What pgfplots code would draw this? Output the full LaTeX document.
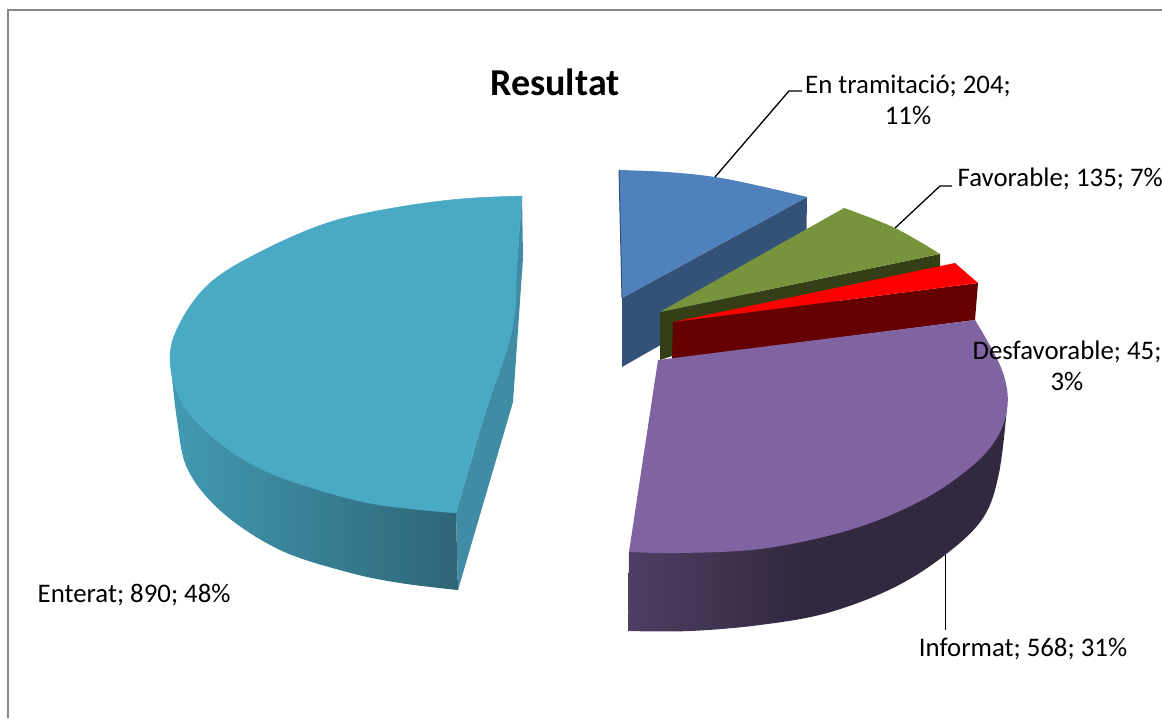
\documentclass[border=0pt]{standalone}
\usepackage{pgfplots}
\pgfplotsset{compat=1.18}
\usepackage{fontspec}
\setmainfont{Carlito}
\definecolor{tealA}{HTML}{429AB3}
\definecolor{tealB}{HTML}{2E6576}
\definecolor{tealC}{HTML}{3F8CA4}
\definecolor{tealT}{HTML}{4AA9C3}
\definecolor{purpA}{HTML}{4F3E63}
\definecolor{purpB}{HTML}{32283F}
\definecolor{purpT}{HTML}{8064A2}
\definecolor{blueT}{HTML}{4F81BD}
\definecolor{blueS}{HTML}{345278}
\definecolor{greenT}{HTML}{77933C}
\definecolor{greenS}{HTML}{353F17}
\definecolor{redS}{HTML}{660000}
\pgfdeclarehorizontalshading{tealside}{100bp}{color(0bp)=(tealA); color(25bp)=(tealA); color(75bp)=(tealB); color(100bp)=(tealB)}
\pgfdeclarehorizontalshading{purpside}{100bp}{color(0bp)=(purpA); color(25bp)=(purpA); color(48bp)=(purpB); color(100bp)=(purpB)}
\begin{document}
\begin{tikzpicture}[x=1pt,y=1pt]
\path[use as bounding box] (0,0) rectangle (1162,718);
\begin{axis}[at={(0,0)},anchor=south west,scale only axis,width=1162pt,height=718pt,
  xmin=0,xmax=1162,ymin=0,ymax=718,y dir=reverse,hide axis,clip=true,
  every axis plot/.append style={no markers}]
% frame
\addplot[draw=gray!95,line width=2pt] coordinates {(7.5,718)(7.5,9.5)(1162,9.5)};
% Enterat; 890
\addplot[shading=tealside,draw=none,smooth,tension=0.6] coordinates {(170,357)(177,420)(188,470)(223,513)(280,550)(347,572)(400,583)(458,590)} -- (axis cs:456,513) -- (axis cs:300,400) -- cycle;
\addplot[fill=tealC,draw=none] coordinates {(522,196)(523,258)(513,402)(458,590)(456,513)(483,420)(512,330)(517,263)} -- cycle;
\addplot[fill=tealT,draw=tealT,line width=0.4pt,smooth,tension=0.6] coordinates {(522,196)(460,199)(393,208)(327,223)(260,252)(210,283)(180,323)(170,360)(183,405)(220,443)(263,470)(322,491)(380,505)(456,513)} -- cycle;
\addplot[fill=tealT,draw=tealT,line width=0.4pt,smooth,tension=0.6] coordinates {(456,513)(483,420)(512,330)(517,263)(522,196)} -- cycle;
% En tramitacio; 204
\addplot[fill=blueS,draw=none] coordinates {(622,298)(807,197)(806,262)(622,367)} -- cycle;
\addplot[fill=blueT,draw=none,smooth,tension=0.6] coordinates {(619,170)(667,172)(715,177)(760,186)(807,197)} -- (axis cs:622,298) -- cycle;
\addplot[draw=blueS,line width=1pt] coordinates {(619,170)(622,298)};
% Favorable; 135
\addplot[fill=greenS,draw=none] coordinates {(660,312)(940,254)(940,267)(660,360)} -- cycle;
\addplot[fill=greenT,draw=none,smooth,tension=0.6] coordinates {(844,208)(895,228)(940,254)} -- (axis cs:660,312) -- cycle;
% Desfavorable; 45
\addplot[fill=redS,draw=none] coordinates {(673,322)(978,283)(975,320)(672,359)} -- cycle;
\addplot[fill=red,draw=none] coordinates {(673,322)(955,263)(978,283)} -- cycle;
% Informat; 568
\addplot[shading=purpside,draw=none,smooth,tension=0.6] coordinates {(1007,407)(999,473)(983,518)(945,555)(893,588)(827,613)(760,625)(690,631)(628,631)} -- (axis cs:629,552) -- (axis cs:800,450) -- cycle;
\addplot[fill=purpT,draw=none,smooth,tension=0.6] coordinates {(975,320)(1002,370)(1007,410)(990,448)(950,483)(900,511)(839,533)(760,549)(680,553)(629,552)} -- (axis cs:658,360) -- cycle;
% leaders
\addplot[black,line width=1.3pt] coordinates {(715,177)(789,91)(802,91)};
\addplot[black,line width=1.3pt] coordinates {(895,228)(940,186)(952,186)};
\addplot[black,line width=1pt] coordinates {(945,555)(945,630)};
% text
\node[font=\fontsize{38}{44}\selectfont\bfseries] at (axis cs:555,82) {Resultat};
\node[font=\fontsize{26.8}{31}\selectfont,align=center] at (axis cs:908,100) {En tramitació; 204;\\11\%};
\node[font=\fontsize{26.8}{31}\selectfont,anchor=west,inner sep=0pt] at (axis cs:957.5,179) {Favorable; 135; 7\%};
\node[font=\fontsize{26.8}{31}\selectfont,align=center] at (axis cs:1067,366) {Desfavorable; 45;\\3\%};
\node[font=\fontsize{26.8}{31}\selectfont,anchor=west,inner sep=0pt] at (axis cs:37.5,595) {Enterat; 890; 48\%};
\node[font=\fontsize{26.8}{31}\selectfont] at (axis cs:1023,649) {Informat; 568; 31\%};
\end{axis}
\end{tikzpicture}
\end{document}
